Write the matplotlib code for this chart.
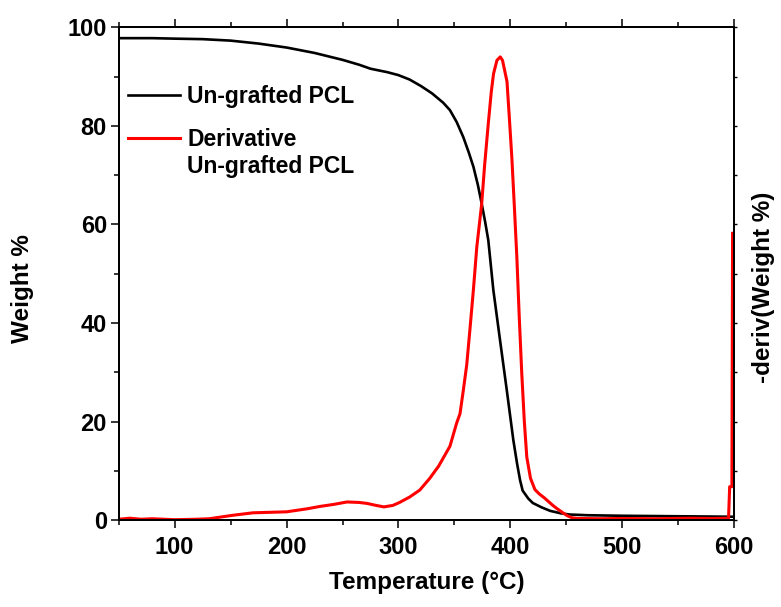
import numpy as np
import matplotlib
matplotlib.use("Agg")
import matplotlib.pyplot as plt
from matplotlib.lines import Line2D

plt.rcParams['font.family'] = ['Liberation Sans', 'DejaVu Sans']
plt.rcParams['font.weight'] = 'bold'

# TGA curve of un-grafted PCL (Weight %)
temp_w = [50, 80, 100, 125, 150, 175, 200, 225, 250, 265, 275, 290, 300, 310, 320, 330,
          340, 346, 352, 358, 363, 367, 371, 374.4, 377.5, 380.3, 384.8, 390.8, 396.8,
          402.7, 406, 408.7, 411, 416, 420, 428, 435.5, 445, 453, 470, 500, 550, 600]
weight = [97.8, 97.8, 97.7, 97.6, 97.3, 96.7, 95.9, 94.8, 93.4, 92.4, 91.6, 90.9, 90.3,
          89.4, 88.1, 86.6, 84.7, 83.2, 80.8, 77.7, 74.5, 71.7, 68.0, 64.2, 60.5, 56.8,
          46.7, 36.5, 26.4, 16.2, 11.5, 8.1, 6.0, 4.4, 3.5, 2.6, 1.9, 1.4, 1.15, 1.0,
          0.9, 0.8, 0.7]

# derivative curve (-d(Weight %)/dT, %/°C)
temp_d = [50, 60, 70, 80, 100, 120, 131, 140, 152, 170, 185, 200, 218, 230, 242, 254,
          265, 272, 280, 287, 295, 301, 310, 319, 328, 336, 343, 346, 352, 355, 358,
          361, 364, 367, 370, 374.4, 377, 380.3, 383, 385, 388, 391, 393, 397, 399,
          401.3, 403.5, 405.8, 408, 410.2, 412.5, 414.7, 418, 422, 426, 430, 434, 438,
          442, 447, 451, 455, 460, 480, 500, 530, 560, 580, 595, 596, 598, 598.6]
deriv = [0.004, 0.008, 0.004, 0.006, 0.002, 0.004, 0.006, 0.012, 0.020, 0.030, 0.032,
         0.034, 0.046, 0.056, 0.064, 0.074, 0.072, 0.068, 0.060, 0.054, 0.060, 0.072,
         0.094, 0.122, 0.170, 0.220, 0.276, 0.300, 0.394, 0.432, 0.528, 0.630, 0.780,
         0.936, 1.108, 1.284, 1.440, 1.610, 1.740, 1.812, 1.866, 1.880, 1.866, 1.780,
         1.640, 1.474, 1.280, 1.068, 0.820, 0.596, 0.400, 0.256, 0.170, 0.124, 0.106,
         0.092, 0.076, 0.060, 0.046, 0.030, 0.018, 0.010, 0.007, 0.006, 0.007, 0.006,
         0.008, 0.007, 0.008, 0.136, 0.136, 1.164]

fig = plt.figure(figsize=(7.81, 6.07), dpi=100)
ax = fig.add_axes([0.152, 0.143, 0.788, 0.812])
ax2 = ax.twinx()

ax.plot(temp_w, weight, color='black', lw=1.9)
ax2.plot(temp_d, deriv, color='#ff0000', lw=2.2)

ax.set_xlim(50, 600)
ax.set_ylim(0, 100)
ax2.set_ylim(0, 2.0)

ax.set_xticks(np.arange(100, 601, 100))
ax.set_xticks(np.arange(50, 601, 50), minor=True)
ax.set_yticks(np.arange(0, 101, 20))
ax.set_yticks(np.arange(0, 101, 10), minor=True)
ax.tick_params(axis='both', which='major', direction='out', length=5.5, width=1.1,
               labelsize=17, pad=3)
ax.tick_params(axis='both', which='minor', direction='out', length=3.5, width=1.1)
ax.tick_params(axis='x', which='both', top=True, labeltop=False)
ax.tick_params(axis='x', which='major', pad=6)

ax2.set_yticks(np.arange(0, 2.01, 0.2))
ax2.set_yticklabels([])
ax2.tick_params(axis='y', direction='out', length=2.5, width=1.0)

for a in (ax, ax2):
    for s in a.spines.values():
        s.set_linewidth(1.4)

ax.set_xlabel('Temperature (°C)', fontsize=17.5, fontweight='bold')
ax.set_ylabel('Weight %', fontsize=17.5, fontweight='bold')
ax2.set_ylabel('-deriv(Weight %)', fontsize=17.5, fontweight='bold')
ax.xaxis.set_label_coords(0.5, -0.103)
ax.yaxis.set_label_coords(-0.137, 0.47)
ax2.yaxis.set_label_coords(1.029, 0.473)

leg1 = ax2.legend([Line2D([], [], color='black', lw=1.9)], ['Un-grafted PCL'],
                  loc='center left', bbox_to_anchor=(0.0146, 0.86), frameon=False,
                  borderpad=0, borderaxespad=0, handlelength=2.3, handletextpad=0.3,
                  prop={'size': 16.5, 'weight': 'bold'})
ax2.add_artist(leg1)
ax2.legend([Line2D([], [], color='#ff0000', lw=2.2), Line2D([], [], alpha=0)],
           ['Derivative', 'Un-grafted PCL'],
           loc='center left', bbox_to_anchor=(0.0146, 0.745), frameon=False,
           borderpad=0, borderaxespad=0, handlelength=2.3, handletextpad=0.3,
           labelspacing=0.15, prop={'size': 16.5, 'weight': 'bold'})

fig.savefig('out.png', dpi=100)
